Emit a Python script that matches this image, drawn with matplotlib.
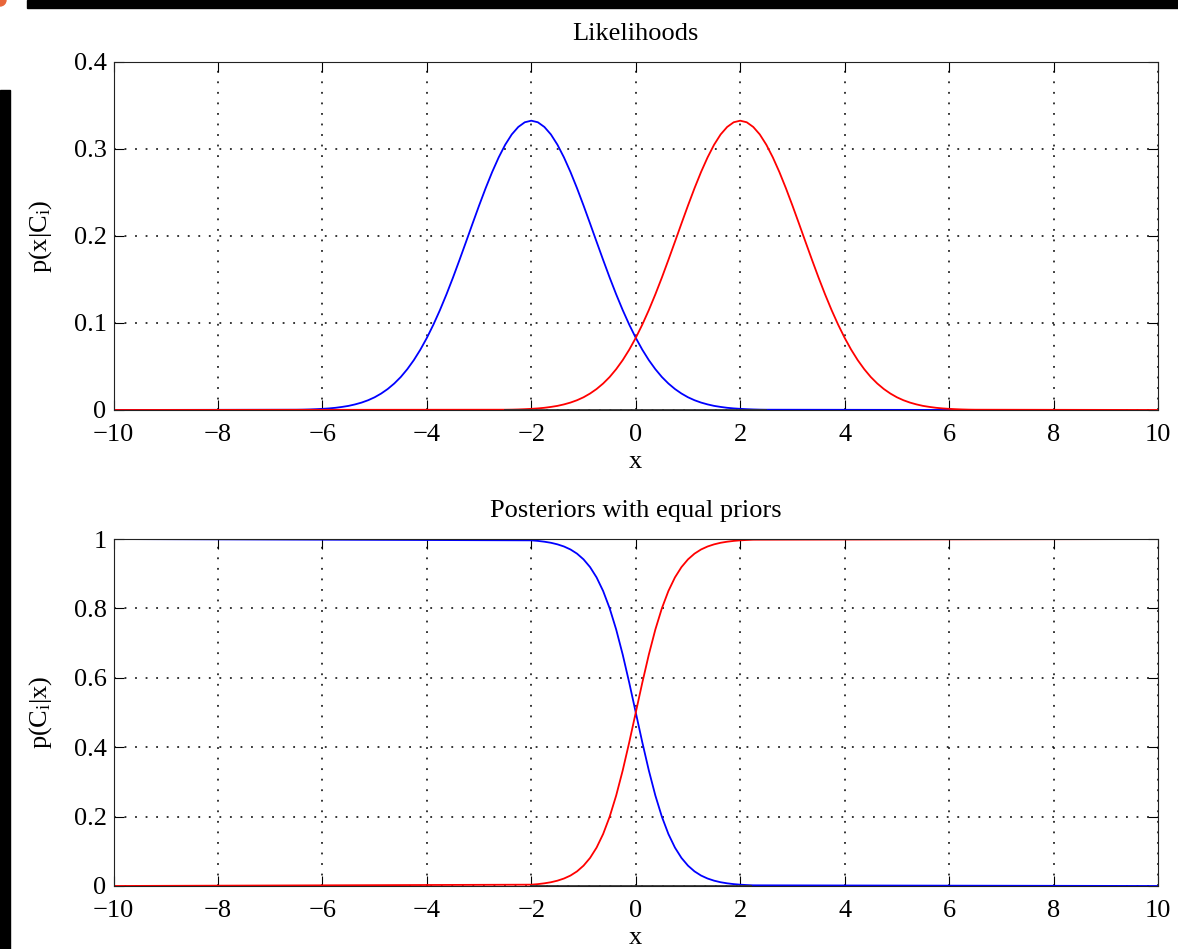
import numpy as np
import matplotlib
matplotlib.use('Agg')
import matplotlib.pyplot as plt
from matplotlib.patches import Rectangle, Ellipse

plt.rcParams['font.family'] = 'Liberation Serif'
plt.rcParams['mathtext.fontset'] = 'custom'
plt.rcParams['mathtext.rm'] = 'Liberation Serif'
plt.rcParams['mathtext.it'] = 'Liberation Serif'
FS = 19

# class likelihoods, sampled every 0.125 on their support
x_lik_c1 = np.linspace(-6.5, 2.5, 73)
x_lik_c2 = np.linspace(-2.5, 6.5, 73)
lik_c1 = [0.0003, 0.0004, 0.0006, 0.0009, 0.0013, 0.0018, 0.0025, 0.0035, 0.0047,
          0.0064, 0.0085, 0.0112, 0.0146, 0.0189, 0.0241, 0.0304, 0.0379, 0.0469,
          0.0573, 0.0693, 0.0829, 0.0981, 0.1148, 0.1329, 0.1522, 0.1725, 0.1933,
          0.2143, 0.2350, 0.2549, 0.2735, 0.2903, 0.3049, 0.3167, 0.3253, 0.3307,
          0.3325,
          0.3307, 0.3253, 0.3167, 0.3049, 0.2903, 0.2735, 0.2549, 0.2350, 0.2143,
          0.1933, 0.1725, 0.1522, 0.1329, 0.1148, 0.0981, 0.0829, 0.0693, 0.0573,
          0.0469, 0.0379, 0.0304, 0.0241, 0.0189, 0.0146, 0.0112, 0.0085, 0.0064,
          0.0047, 0.0035, 0.0025, 0.0018, 0.0013, 0.0009, 0.0006, 0.0004, 0.0003]
lik_c2 = [0.0003, 0.0004, 0.0006, 0.0009, 0.0013, 0.0018, 0.0025, 0.0035, 0.0047,
          0.0064, 0.0085, 0.0112, 0.0146, 0.0189, 0.0241, 0.0304, 0.0379, 0.0469,
          0.0573, 0.0693, 0.0829, 0.0981, 0.1148, 0.1329, 0.1522, 0.1725, 0.1933,
          0.2143, 0.2350, 0.2549, 0.2735, 0.2903, 0.3049, 0.3167, 0.3253, 0.3307,
          0.3325,
          0.3307, 0.3253, 0.3167, 0.3049, 0.2903, 0.2735, 0.2549, 0.2350, 0.2143,
          0.1933, 0.1725, 0.1522, 0.1329, 0.1148, 0.0981, 0.0829, 0.0693, 0.0573,
          0.0469, 0.0379, 0.0304, 0.0241, 0.0189, 0.0146, 0.0112, 0.0085, 0.0064,
          0.0047, 0.0035, 0.0025, 0.0018, 0.0013, 0.0009, 0.0006, 0.0004, 0.0003]

# posteriors (equal priors) in the overlap region
x_post = np.linspace(-2.0, 2.25, 35)
post_c1 = [0.9962, 0.9946, 0.9923, 0.9892, 0.9847, 0.9785, 0.9699, 0.9579, 0.9414,
           0.9191, 0.8893, 0.8502, 0.8004, 0.7392, 0.6669, 0.5859, 0.5000, 0.4141,
           0.3331, 0.2608, 0.1996, 0.1498, 0.1107, 0.0809, 0.0586, 0.0421, 0.0301,
           0.0215, 0.0153, 0.0108, 0.0077, 0.0054, 0.0038, 0.0027, 0.0019]
post_c2 = [0.0038, 0.0054, 0.0077, 0.0108, 0.0153, 0.0215, 0.0301, 0.0421, 0.0586,
           0.0809, 0.1107, 0.1498, 0.1996, 0.2608, 0.3331, 0.4141, 0.5000, 0.5859,
           0.6669, 0.7392, 0.8004, 0.8502, 0.8893, 0.9191, 0.9414, 0.9579, 0.9699,
           0.9785, 0.9847, 0.9892, 0.9923, 0.9946, 0.9962, 0.9973, 0.9981]

xticks = np.arange(-10, 11, 2)
fig = plt.figure(figsize=(11.78, 9.49), dpi=100)
ax1 = fig.add_axes([0.0964, 0.568, 0.8866, 0.3667])
ax2 = fig.add_axes([0.0964, 0.0664, 0.8866, 0.3656])

def style(ax, yticks, ylabels):
    ax.set_xlim(-10, 10)
    ax.set_xticks(xticks)
    ax.set_xticklabels([str(t).replace('-', '\u2212') for t in xticks])
    ax.set_yticks(yticks)
    ax.set_yticklabels(ylabels)
    ax.tick_params(direction='in', length=7, width=0.8, top=True, right=True,
                   labelsize=FS, color='k')
    ax.tick_params(axis='x', pad=10)
    ax.tick_params(axis='y', pad=5)
    ax.grid(True, color='k', linestyle=(0, (1.2, 5.7)), linewidth=1.1)
    for s in ax.spines.values():
        s.set_linewidth(0.8)
        s.set_color('#222222')

# top: likelihoods
ax1.plot(np.concatenate([[-10], x_lik_c1, [6.5]]), np.concatenate([[0], lik_c1, [0]]),
         color='#0000ff', lw=1.3)
ax1.plot(np.concatenate([[-10], x_lik_c2, [10]]), np.concatenate([[0], lik_c2, [0]]),
         color='#ff0000', lw=1.3)
ax1.plot([-2.5, 2.5], [0, 0], color='#333333', lw=1.3)
ax1.set_ylim(0, 0.4)
style(ax1, [0, 0.1, 0.2, 0.3, 0.4], ['0', '0.1', '0.2', '0.3', '0.4'])
ax1.set_title('Likelihoods', fontsize=FS, pad=16)
ax1.set_xlabel('x', fontsize=FS, labelpad=4)
ax1.set_ylabel(r'p(x|C$_\mathrm{i}$)', fontsize=FS, labelpad=14)

# bottom: posteriors
ax2.plot(np.concatenate([[-10], x_post, [10]]), np.concatenate([[1], post_c1, [0]]),
         color='#0000ff', lw=1.3)
ax2.plot(np.concatenate([[-10], x_post, [10]]), np.concatenate([[0], post_c2, [1]]),
         color='#ff0000', lw=1.3)
ax2.plot([-2, 2], [1, 1], color='#333333', lw=1.3)
ax2.plot([-2, 2.2], [0, 0], color='#333333', lw=1.3)
ax2.set_ylim(0, 1)
style(ax2, [0, 0.2, 0.4, 0.6, 0.8, 1], ['0', '0.2', '0.4', '0.6', '0.8', '1'])
ax2.set_title('Posteriors with equal priors', fontsize=FS, pad=16)
ax2.set_xlabel('x', fontsize=FS, labelpad=4)
ax2.set_ylabel(r'p(C$_\mathrm{i}$|x)', fontsize=FS, labelpad=14)

# frame remnants around the figure
fig.patches.append(Rectangle((27 / 1178, 1 - 8 / 949), 1, 8 / 949, transform=fig.transFigure,
                             color='black', zorder=10))
fig.patches.append(Rectangle((0, 0), 10 / 1178, 1 - 90 / 949, transform=fig.transFigure,
                             color='black', zorder=10))
fig.patches.append(Ellipse((0, 1), 12 / 1178, 12 / 949, transform=fig.transFigure,
                           color='#e8663a', zorder=10))

fig.savefig('out.png', dpi=100)
